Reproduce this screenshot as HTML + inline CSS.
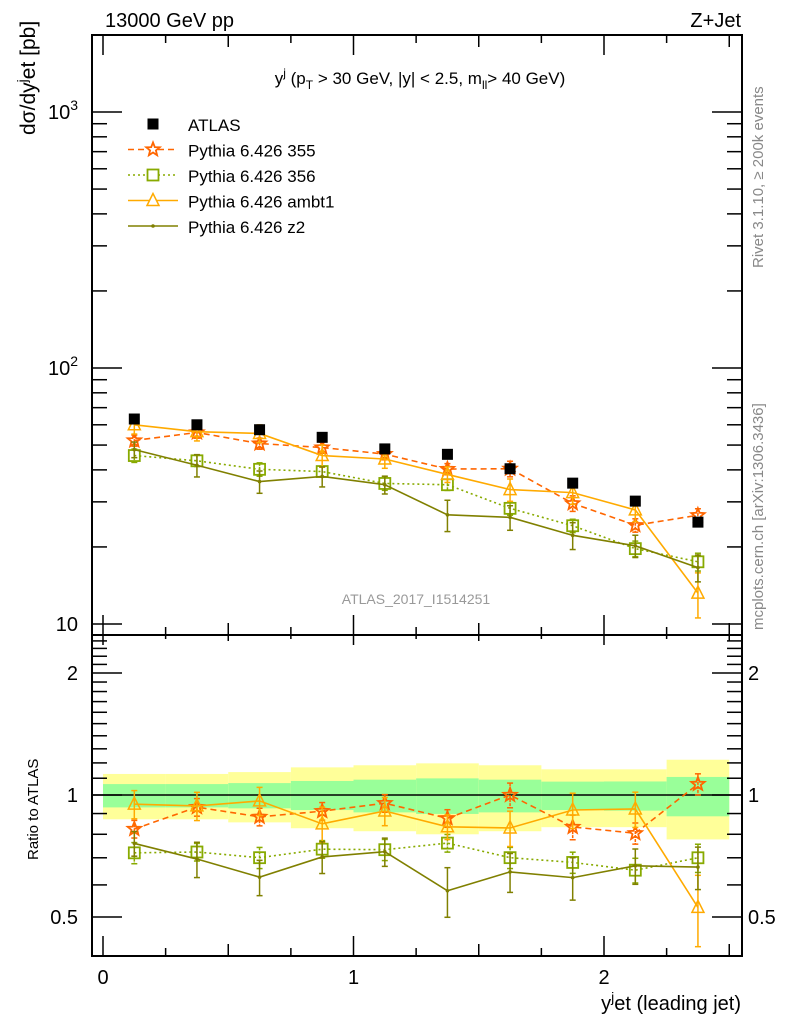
<!DOCTYPE html>
<html><head><meta charset="utf-8"><style>
body{margin:0;background:#fff;width:786px;height:1024px;overflow:hidden}
svg{display:block;font-family:"Liberation Sans",sans-serif}
</style></head><body>
<svg id="chart" width="786" height="1024" viewBox="0 0 786 1024" xmlns="http://www.w3.org/2000/svg">
<g id="bands"></g>
<g id="grid"></g>
<g id="series"></g>
<text x="105" y="27" font-size="20">13000 GeV pp</text>
<text x="741" y="27" font-size="20" text-anchor="end">Z+Jet</text>
<text x="420" y="84" font-size="17" text-anchor="middle">y<tspan dy="-7" font-size="12">j</tspan><tspan dy="7"> (p</tspan><tspan dy="5" font-size="12">T</tspan><tspan dy="-5"> &gt; 30 GeV, |y| &lt; 2.5, m</tspan><tspan dy="5" font-size="12">ll</tspan><tspan dy="-5">&gt; 40 GeV)</tspan></text>
<text transform="translate(35,135) rotate(-90)" font-size="21">dσ/dy<tspan dy="-8" font-size="14">j</tspan><tspan dy="8">et [pb]</tspan></text>
<text transform="translate(38,860) rotate(-90)" font-size="15">Ratio to ATLAS</text>
<text x="741" y="1010" font-size="20" text-anchor="end">y<tspan dy="-8" font-size="14">j</tspan><tspan dy="8">et (leading jet)</tspan></text>
<text transform="translate(763,268) rotate(-90)" font-size="15" fill="#888">Rivet 3.1.10, ≥ 200k events</text>
<text transform="translate(763,630) rotate(-90)" font-size="15" fill="#888">mcplots.cern.ch [arXiv:1306.3436]</text>
<text x="416" y="604" font-size="14" fill="#999" text-anchor="middle">ATLAS_2017_I1514251</text>
<g id="legend"></g>
</svg>
<script>
const binLo=[0,0.25,0.5,0.75,1.0,1.25,1.5,1.75,2.0,2.25];
const binHi=[0.25,0.5,0.75,1.0,1.25,1.5,1.75,2.0,2.25,2.5];
const xCenters=[0.125,0.375,0.625,0.875,1.125,1.375,1.625,1.875,2.125,2.375];
const atlasVals=[63.2,60,57.4,53.6,48.3,46,40.4,35.5,30.2,25];
const p355Vals=[52.1,56,50.7,48.9,46.1,40.3,40.4,29.6,24.3,26.6];
const p356Vals=[45.5,43.4,40.2,39.4,35.4,35.0,28.3,24.2,19.7,17.5];
const ambt1Vals=[60.0,56.4,55.5,45.5,44.1,38.4,33.5,32.6,27.9,13.2];
const z2Vals=[48.0,41.7,36.0,37.7,35.0,26.7,26.1,22.2,20.2,16.6];
const relErr355=[0.05,0.05,0.05,0.05,0.05,0.05,0.07,0.07,0.06,0.06];
const relErr356=[0.06,0.05,0.06,0.05,0.06,0.05,0.06,0.06,0.07,0.08];
const relErrAmbt1=[0.08,0.08,0.08,0.1,0.08,0.07,0.1,0.1,0.1,0.2];
const relErrZ2=[0.07,0.1,0.1,0.09,0.08,0.14,0.11,0.12,0.1,0.12];
const yellowHi=[1.127,1.127,1.139,1.17,1.184,1.197,1.184,1.157,1.157,1.222];
const yellowLo=[0.871,0.871,0.856,0.828,0.814,0.800,0.814,0.833,0.833,0.777];
const greenHi=[1.064,1.064,1.07,1.083,1.091,1.099,1.091,1.079,1.08,1.108];
const greenLo=[0.932,0.932,0.927,0.918,0.906,0.898,0.906,0.918,0.915,0.886];
const mainTicks=["10","10²","10³"];
const ratioTicks=["0.5","1","2"];
const xTicks=["0","1","2"];

const NS="http://www.w3.org/2000/svg";
const L=92,R=742,T=35,MB=635,RB=956;
const X=v=>103+250.5*v;
const Y=v=>624-256*(Math.log10(v)-1);
const RY=r=>795-122*Math.log2(r);
function mk(tag,attrs,parent){const e=document.createElementNS(NS,tag);for(const k in attrs)e.setAttribute(k,attrs[k]);parent.appendChild(e);return e;}
const grid=document.getElementById('grid'),bands=document.getElementById('bands'),ser=document.getElementById('series'),leg=document.getElementById('legend');

for(let i=0;i<binLo.length;i++){
  const y=mk('rect',{x:X(binLo[i]),y:RY(yellowHi[i]),width:X(binHi[i])-X(binLo[i]),height:RY(yellowLo[i])-RY(yellowHi[i]),fill:'#ffff99'},bands);
  
  
  const g=mk('rect',{x:X(binLo[i]),y:RY(greenHi[i]),width:X(binHi[i])-X(binLo[i]),height:RY(greenLo[i])-RY(greenHi[i]),fill:'#99ff99'},bands);
  
  
}
const f1=mk('rect',{x:L,y:T,width:R-L,height:MB-T,fill:'none',stroke:'#000','stroke-width':2},grid);


const f2=mk('rect',{x:L,y:MB,width:R-L,height:RB-MB,fill:'none',stroke:'#000','stroke-width':2},grid);


mk('line',{x1:L,x2:R,y1:RY(1),y2:RY(1),stroke:'#000','stroke-width':1.5},grid);
for(let k=0;k<=10;k++){
  const v=k*0.25;
  const maj=(k%4==0);
  const half=(k%2==0);
  const len=maj?20:(half?12:8);
  // main top (inward down), main bottom (inward up), ratio top (inward down), ratio bottom (inward up)
  mk('line',{x1:X(v),x2:X(v),y1:T,y2:T+len,stroke:'#000','stroke-width':1.5},grid);
  mk('line',{x1:X(v),x2:X(v),y1:MB,y2:MB-len,stroke:'#000','stroke-width':1.5},grid);
  mk('line',{x1:X(v),x2:X(v),y1:MB,y2:MB+len*0.5,stroke:'#000','stroke-width':1.5},grid);
  mk('line',{x1:X(v),x2:X(v),y1:RB,y2:RB-len,stroke:'#000','stroke-width':1.5},grid);
}
xTicks.forEach((t,i)=>{const e=mk('text',{x:X(i),y:RB+28,'font-size':20,'text-anchor':'middle'},grid);e.textContent=t;

});
for(let d=1;d<=3;d++){for(let m=1;m<10;m++){const v=m*Math.pow(10,d);const y=Y(v);if(y<T||y>MB)continue;const len=m==1?30:15;
mk('line',{x1:L,x2:L+len,y1:y,y2:y,stroke:'#000','stroke-width':1.5},grid);mk('line',{x1:R,x2:R-len,y1:y,y2:y,stroke:'#000','stroke-width':1.5},grid);}}
mainTicks.forEach((t,i)=>{const e=mk('text',{x:78,y:Y(Math.pow(10,i+1))+7,'font-size':20,'text-anchor':'end'},grid);
e.innerHTML=t.length>2?'10<tspan dy="-9" font-size="14">'+(i+1)+'</tspan>':t;

});
const rt=[0.5,0.6,0.7,0.8,0.9,1,1.1,1.2,1.3,1.4,1.5,1.6,1.7,1.8,1.9,2,2.1,2.2,2.3,2.4];
rt.forEach(v=>{const y=RY(v);const maj=(v==0.5||v==1||v==2);const len=maj?30:15;
mk('line',{x1:L,x2:L+len,y1:y,y2:y,stroke:'#000','stroke-width':1.5},grid);mk('line',{x1:R,x2:R-len,y1:y,y2:y,stroke:'#000','stroke-width':1.5},grid);});
ratioTicks.forEach(t=>{const v=parseFloat(t);
const e=mk('text',{x:78,y:RY(v)+7,'font-size':20,'text-anchor':'end'},grid);e.textContent=t;


const e2=mk('text',{x:748,y:RY(v)+7,'font-size':20},grid);e2.textContent=t;

});

function marker(kind,x,y,col,p){
  if(kind=='star'){let pts=[];for(let k=0;k<10;k++){const r=k%2?3:7;const a=-Math.PI/2+k*Math.PI/5;pts.push((x+r*Math.cos(a)).toFixed(1)+','+(y+r*Math.sin(a)).toFixed(1));}
    return mk('polygon',{points:pts.join(' '),fill:'none',stroke:col,'stroke-width':1.8},p);}
  if(kind=='square')return mk('rect',{x:x-5.5,y:y-5.5,width:11,height:11,fill:'none',stroke:col,'stroke-width':1.8},p);
  if(kind=='tri')return mk('polygon',{points:`${x},${y-7} ${x-6},${y+5} ${x+6},${y+5}`,fill:'none',stroke:col,'stroke-width':1.5},p);
  if(kind=='dot')return mk('circle',{cx:x,cy:y,r:1.8,fill:col},p);
  if(kind=='box')return mk('rect',{x:x-5.5,y:y-5.5,width:11,height:11,fill:'#000'},p);
}
const series=[
 {name:'Pythia 6.426 355',vals:p355Vals,err:relErr355,col:'#ff6600',dash:'6,4',mk:'star',id:'p355'},
 {name:'Pythia 6.426 356',vals:p356Vals,err:relErr356,col:'#88aa00',dash:'2,3',mk:'square',id:'p356'},
 {name:'Pythia 6.426 ambt1',vals:ambt1Vals,err:relErrAmbt1,col:'#ffaa00',dash:'',mk:'tri',id:'ambt1'},
 {name:'Pythia 6.426 z2',vals:z2Vals,err:relErrZ2,col:'#808000',dash:'',mk:'dot',id:'z2'}];
series.forEach(s=>{
  const g=mk('g',{},ser);
  
  
  const ratios=s.vals.map((v,i)=>v/atlasVals[i]);
  [[s.vals,Y],[ratios,RY]].forEach(([vals,fy])=>{
    const pts=vals.map((v,i)=>X(xCenters[i])+','+fy(v)).join(' ');
    const pl=mk('polyline',{points:pts,fill:'none',stroke:s.col,'stroke-width':1.6,'stroke-dasharray':s.dash},g);
    
    
    vals.forEach((v,i)=>{const x=X(xCenters[i]);
      mk('line',{x1:x,x2:x,y1:fy(v*(1+s.err[i])),y2:fy(v*(1-s.err[i])),stroke:s.col,'stroke-width':1.5,'stroke-dasharray':s.dash?'3,1':''},g);
      [1+s.err[i],1-s.err[i]].forEach(f=>mk('line',{x1:x-3,x2:x+3,y1:fy(v*f),y2:fy(v*f),stroke:s.col,'stroke-width':1.5},g));
      const m=marker(s.mk,x,fy(v),s.col,g);
      
      
    });
  });
});
atlasVals.forEach((v,i)=>{const m=marker('box',X(xCenters[i]),Y(v),'#000',ser);

});
const legItems=[{name:'ATLAS',mk:'box',col:'#000',dash:null}].concat(series);
legItems.forEach((s,i)=>{const y=124+25.5*i;
  if(s.dash!==null)mk('line',{x1:128,x2:178,y1:y,y2:y,stroke:s.col,'stroke-width':1.6,'stroke-dasharray':s.dash},leg);
  const mm=marker(s.mk,153,y,s.col,leg);
  if(s.mk!='box'&&s.mk!='dot')mm.setAttribute('fill','#fff');
  const t=mk('text',{x:188,y:y+7,'font-size':17},leg);t.textContent=s.name;
  
  
});
</script>
</body></html>
